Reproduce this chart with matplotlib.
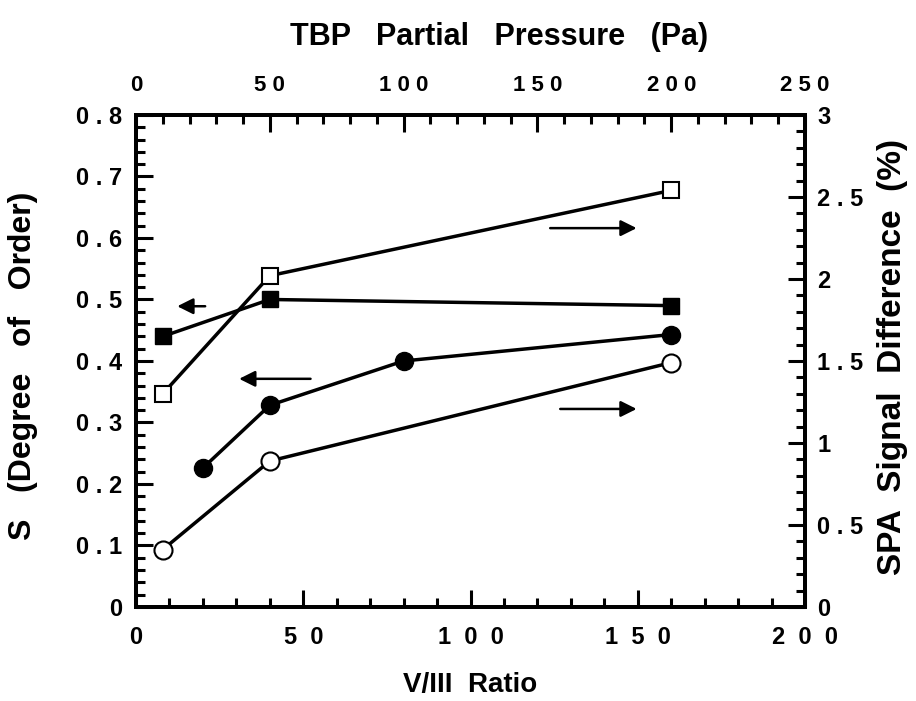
import matplotlib.pyplot as plt
from matplotlib.ticker import MultipleLocator, FixedLocator

plt.rcParams['font.family'] = ['Liberation Sans', 'DejaVu Sans']
plt.rcParams['font.weight'] = 'bold'

# V/III ratio values for each series (bottom axis)
ratio_filled_sq = [8, 40, 160]
ratio_filled_circ = [20, 40, 80, 160]
ratio_open_sq = [8, 40, 160]
ratio_open_circ = [8, 40, 160]

# S (degree of order), left axis
s_filled_sq = [0.44, 0.50, 0.49]
s_filled_circ = [0.226, 0.328, 0.40, 0.443]

# SPA signal difference (%), right axis
spa_open_sq = [1.30, 2.02, 2.54]
spa_open_circ = [0.35, 0.89, 1.49]

# tick labels
left_ticks = [0, 0.1, 0.2, 0.3, 0.4, 0.5, 0.6, 0.7, 0.8]
left_labels = ["0", "0 . 1", "0 . 2", "0 . 3", "0 . 4", "0 . 5", "0 . 6", "0 . 7", "0 . 8"]
right_ticks = [0, 0.5, 1, 1.5, 2, 2.5, 3]
right_labels = ["0", "0 . 5", "1", "1 . 5", "2", "2 . 5", "3"]
bottom_ticks = [0, 50, 100, 150, 200]
bottom_labels = ["0", "5  0", "1  0  0", "1  5  0", "2  0  0"]
top_ticks = [0, 50, 100, 150, 200, 250]
top_labels = ["0", "5 0", "1 0 0", "1 5 0", "2 0 0", "2 5 0"]

LW = 2.5
TICK_FS = 17

fig = plt.figure(figsize=(9.16, 7.01), dpi=100)
ax = fig.add_axes([0.1485, 0.1341, 0.7303, 0.7019])
ax2 = ax.twinx()
ax3 = ax.twiny()

ax.set_xlim(0, 200)
ax.set_ylim(0, 0.8)
ax2.set_ylim(0, 3)
ax3.set_xlim(0, 250)

ax.plot(ratio_filled_sq, s_filled_sq, color="black", lw=LW, marker="s",
        ms=12, mfc="black", mec="black", clip_on=False)
ax.plot(ratio_filled_circ, s_filled_circ, color="black", lw=LW, marker="o",
        ms=13, mfc="black", mec="black", clip_on=False)
ax2.plot(ratio_open_sq, spa_open_sq, color="black", lw=LW, marker="s",
         ms=12, mfc="white", mec="black", mew=1.5, clip_on=False)
ax2.plot(ratio_open_circ, spa_open_circ, color="black", lw=LW, marker="o",
         ms=13, mfc="white", mec="black", mew=1.5, clip_on=False)

# direction arrows
arrow = dict(arrowstyle="-|>", color="black", lw=1.8, mutation_scale=24)
ax.annotate("", xy=(11.5, 0.489), xytext=(21.5, 0.489), arrowprops=arrow)
ax.annotate("", xy=(30, 0.371), xytext=(53, 0.371), arrowprops=arrow)
ax.annotate("", xy=(150.5, 0.616), xytext=(123, 0.616), arrowprops=arrow)
ax.annotate("", xy=(150.5, 0.322), xytext=(126, 0.322), arrowprops=arrow)

for a in (ax, ax2, ax3):
    for sp in a.spines.values():
        sp.set_linewidth(2.7)

ax.xaxis.set_major_locator(FixedLocator(bottom_ticks))
ax.set_xticklabels(bottom_labels)
ax.xaxis.set_minor_locator(MultipleLocator(10))
ax.yaxis.set_major_locator(FixedLocator(left_ticks))
ax.set_yticklabels(left_labels)
ax.yaxis.set_minor_locator(MultipleLocator(0.02))
ax2.yaxis.set_major_locator(FixedLocator(right_ticks))
ax2.set_yticklabels(right_labels)
ax2.yaxis.set_minor_locator(MultipleLocator(0.1))
ax3.xaxis.set_major_locator(FixedLocator(top_ticks))
ax3.set_xticklabels(top_labels)
ax3.xaxis.set_minor_locator(MultipleLocator(10))

ax.tick_params(axis="both", which="both", direction="in", width=2.2,
               labelsize=TICK_FS, top=False, right=False)
ax.tick_params(axis="both", which="major", length=12)
ax.tick_params(axis="both", which="minor", length=6.5)
ax.tick_params(axis="x", pad=14)
ax.tick_params(axis="y", pad=10)
ax2.tick_params(axis="y", which="both", direction="in", width=2.2,
                labelsize=TICK_FS, pad=9)
ax2.tick_params(axis="y", which="major", length=12)
ax2.tick_params(axis="y", which="minor", length=6.5)
ax3.tick_params(axis="x", which="both", direction="in", width=2.2,
                labelsize=16, pad=14)
ax3.tick_params(axis="x", which="major", length=12)
ax3.tick_params(axis="x", which="minor", length=6.5)

ax.set_xlabel("V/III  Ratio", fontsize=20, fontweight="bold")
ax.xaxis.set_label_coords(0.5, -0.132)
ax.set_ylabel("S   (Degree   of   Order)", fontsize=23, fontweight="bold")
ax.yaxis.set_label_coords(-0.146, 0.49)
ax2.set_ylabel("SPA  Signal  Difference  (%)", fontsize=24, fontweight="bold",
               rotation=90)
ax2.yaxis.set_label_coords(1.107, 0.508)
ax3.set_xlabel("TBP   Partial   Pressure   (Pa)", fontsize=22, fontweight="bold")
ax3.xaxis.set_label_coords(0.543, 1.142)

fig.savefig("out.png", dpi=100)
